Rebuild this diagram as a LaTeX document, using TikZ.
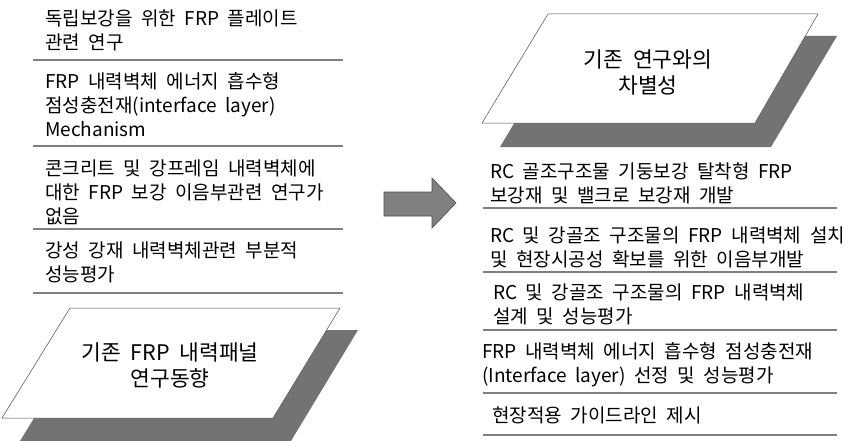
\documentclass[tikz,border=0pt]{standalone}
\usepackage{fontspec}
\setmainfont{Noto Sans CJK KR}
\usepackage{tikz}
\usetikzlibrary{arrows.meta}

\newcommand\widespace{\spaceskip=0.45em\relax}

\tikzset{
  itemtext/.style={anchor=west, align=left, inner sep=0pt, font=\fontsize{19}{24}\selectfont, execute at begin node=\widespace},
  paneltext/.style={align=center, inner sep=0pt, font=\fontsize{21.5}{26}\selectfont, execute at begin node=\widespace},
  sepline/.style={draw=black!50, line width=2.5pt},
  shadow/.style={fill=black!55, draw=none},
  panel/.style={fill=white, draw=black!70, line width=0.5pt},
}

\begin{document}
\begin{tikzpicture}[x=1pt, y=-1pt]
  \useasboundingbox (0,0) rectangle (858,441);

  % Left list
  \node[itemtext] (l1) at (45,30) {독립보강을 위한 FRP 플레이트\\관련 연구};
  \draw[sepline] (33,60) -- (343,60);
  \node[itemtext] (l2) at (45,105) {FRP 내력벽체 에너지 흡수형\\점성충전재(interface layer)\\Mechanism};
  \draw[sepline] (33,146) -- (343,146);
  \node[itemtext] (l3) at (45,192) {콘크리트 및 강프레임 내력벽체에\\대한 FRP 보강 이음부관련 연구가\\없음};
  \draw[sepline] (33,229) -- (343,229);
  \node[itemtext] (l4) at (45,262) {강성 강재 내력벽체관련 부분적\\성능평가};
  \draw[sepline] (33,293) -- (343,293);

  % Left panel (shadow first)
  \fill[shadow] (88,330) -- (358,330) -- (291,441) -- (20,441) -- cycle;
  \draw[panel] (70,308) -- (340,308) -- (273,418) -- (2,418) -- cycle;
  \node[paneltext] (lpanel) at (170,365) {기존 FRP 내력패널\\연구동향};

  % Arrow in the middle
  \draw[fill=black!50, draw=black!70, line width=0.6pt]
    (384,192) -- (432,192) -- (432,178) -- (456,203) -- (432,228) -- (432,216) -- (384,216) -- cycle;

  % Right panel (shadow first)
  \fill[shadow] (566,36) -- (837,36) -- (771,147) -- (500,147) -- cycle;
  \draw[panel] (548,14) -- (818,14) -- (755,123) -- (482,123) -- cycle;
  \node[paneltext] (rpanel) at (648,72) {기존 연구와의\\차별성};

  % Right list
  \node[itemtext] (r1) at (490,183) {RC 골조구조물 기둥보강 탈착형 FRP\\보강재 및 밸크로 보강재 개발};
  \draw[sepline] (483,208) -- (837,208);
  \node[itemtext] (r2) at (490,247) {RC 및 강골조 구조물의 FRP 내력벽체 설치\\및 현장시공성 확보를 위한 이음부개발};
  \draw[sepline] (483,272) -- (837,272);
  \node[itemtext] (r3) at (493,304) {RC 및 강골조 구조물의 FRP 내력벽체\\설계 및 성능평가};
  \draw[sepline] (483,330) -- (837,330);
  \node[itemtext] (r4) at (482,365) {FRP 내력벽체 에너지 흡수형 점성충전재\\(Interface layer) 선정 및 성능평가};
  \draw[sepline] (483,393) -- (837,393);
  \node[itemtext] (r5) at (492,415) {현장적용 가이드라인 제시};
  \draw[sepline] (483,435) -- (837,435);
\end{tikzpicture}
\end{document}
